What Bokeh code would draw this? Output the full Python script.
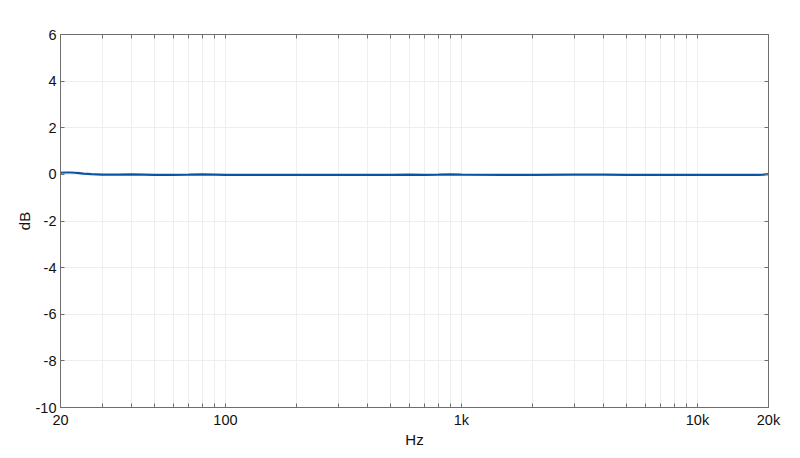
from bokeh.plotting import figure
from bokeh.models import (FixedTicker, LogAxis, LinearAxis, CustomJSTickFormatter, Range1d)
from bokeh.embed import file_html
from bokeh.resources import INLINE

# Frequency response data (Hz, dB)
freq = [20, 21, 22, 23, 24, 25, 27, 30, 35, 40, 45, 50, 60, 70, 80, 90, 100, 120, 150,
        200, 300, 400, 500, 600, 700, 800, 900, 1000, 1500, 2000, 3000, 4000, 5000,
        6000, 7000, 8000, 9000, 10000, 12000, 15000, 17000, 18000, 19000, 20000]
db = [0.07, 0.08, 0.08, 0.07, 0.05, 0.03, 0.01, -0.01, -0.01, 0.0, -0.01, -0.02, -0.02,
      -0.01, 0.0, -0.01, -0.02, -0.02, -0.02, -0.02, -0.02, -0.02, -0.02, -0.01, -0.02,
      -0.01, 0.0, -0.01, -0.02, -0.02, -0.01, -0.01, -0.02, -0.02, -0.02, -0.02, -0.02,
      -0.02, -0.02, -0.02, -0.02, -0.02, -0.01, 0.01]

x_major = [20, 100, 1000, 10000, 20000]
x_minor = [30, 40, 50, 60, 70, 80, 90, 200, 300, 400, 500, 600, 700, 800, 900,
           2000, 3000, 4000, 5000, 6000, 7000, 8000, 9000]
y_ticks = [-10, -8, -6, -4, -2, 0, 2, 4, 6]

FONT = "Liberation Sans"
GRID = "#eeeeee"
AX = "#6e6e6e"

p = figure(width=792, height=450, x_axis_type="log",
           x_range=Range1d(20, 20000), y_range=Range1d(-10, 6),
           output_backend="svg", toolbar_location=None,
           min_border_left=60, min_border_right=24, min_border_top=34, min_border_bottom=42)

p.line(freq, db, line_color="#0a54a6", line_width=2.2)

xt = FixedTicker(ticks=x_major, minor_ticks=x_minor)
yt = FixedTicker(ticks=y_ticks)
xfmt = CustomJSTickFormatter(code="return tick >= 1000 ? (tick/1000) + 'k' : String(tick);")
yfmt = CustomJSTickFormatter(code="return String(tick);")
blank = CustomJSTickFormatter(code="return '';")

xa = p.xaxis[0]
xa.ticker = xt
xa.formatter = xfmt
xa.axis_label = "Hz"
ya = p.yaxis[0]
ya.ticker = yt
ya.formatter = yfmt
ya.axis_label = "dB"

for ax in (xa, ya):
    ax.major_tick_in = 4
    ax.major_tick_out = 0
    ax.minor_tick_in = 4
    ax.minor_tick_out = 0
    ax.axis_line_color = AX
    ax.major_tick_line_color = AX
    ax.minor_tick_line_color = AX
    ax.major_label_text_font = FONT
    ax.major_label_text_font_size = "14.5px"
    ax.major_label_text_color = "#111111"
    ax.axis_label_text_font = FONT
    ax.axis_label_text_font_size = "15px"
    ax.axis_label_text_font_style = "normal"
    ax.axis_label_text_color = "#111111"
xa.major_label_standoff = 4
xa.axis_label_standoff = 0
ya.major_label_standoff = 4
ya.axis_label_standoff = 0

# top and right axes (ticks only)
top = LogAxis(ticker=xt, formatter=blank,
              major_tick_in=4, major_tick_out=0, minor_tick_in=4, minor_tick_out=0,
              axis_line_color=AX, major_tick_line_color=AX, minor_tick_line_color=AX,
              major_label_standoff=0)
right = LinearAxis(ticker=yt, formatter=blank,
                   major_tick_in=4, major_tick_out=0, minor_tick_line_color=None,
                   axis_line_color=AX, major_tick_line_color=AX, major_label_standoff=0)
p.add_layout(top, "above")
p.add_layout(right, "right")

p.xgrid.grid_line_color = GRID
p.xgrid.minor_grid_line_color = GRID
p.ygrid.grid_line_color = GRID
p.outline_line_color = AX

open("out.html", "w").write(file_html(p, INLINE))
